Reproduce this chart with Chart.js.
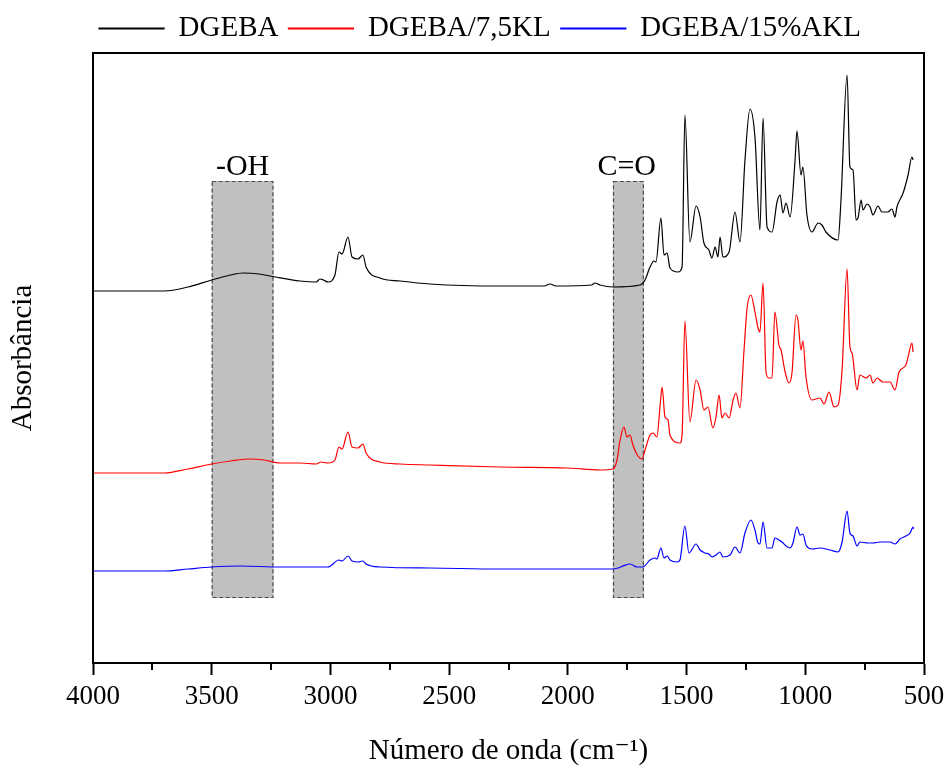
<!DOCTYPE html>
<html><head><meta charset="utf-8">
<script src="https://cdn.jsdelivr.net/npm/chart.js@4"></script>
<style>html,body{margin:0;padding:0;background:#fff}#c{display:block}</style>
</head><body>
<canvas id="c" width="945" height="767"></canvas>
<script>
const seriesNames = ['DGEBA', 'DGEBA/7,5KL', 'DGEBA/15%AKL'];
const seriesColors = ['#000000', '#ff0000', '#0000ff'];

const dgebaWn = [4000,3850,3700,3600,3500,3420,3368,3300,3233,3128,3060,3044,3030,3010,2981,2964,2951,2926,2909,2884,2863,2850,2791,2707,2581,2286,2100,2075,2050,1900,1886,1865,1810,1696,1675,1654,1637,1629,1608,1595,1582,1570,1536,1519,1507,1486,1460,1443,1427,1406,1393,1380,1368,1359,1347,1321,1296,1275,1254,1233,1212,1191,1178,1161,1140,1119,1106,1094,1081,1064,1043,1035,1018,1010,993,972,946,930,913,862,850,824,812,799,786,778,765,757,740,727,715,694,677,652,635,622,614,588,567,551,546];
const dgebaAbs = [3.72,3.72,3.72,3.76,3.83,3.88,3.90,3.89,3.86,3.82,3.81,3.84,3.83,3.81,3.88,4.11,4.09,4.26,4.06,4.04,4.08,3.96,3.85,3.82,3.79,3.77,3.77,3.79,3.77,3.78,3.80,3.78,3.76,3.78,3.83,3.96,4.02,4.01,4.45,4.08,4.10,3.95,3.91,3.96,5.48,4.21,4.57,4.46,4.20,4.13,4.05,4.16,4.06,4.26,4.06,4.11,4.51,4.21,5.03,5.54,5.26,4.33,5.45,4.36,4.31,4.61,4.68,4.50,4.60,4.46,5.03,5.32,4.88,4.96,4.48,4.31,4.40,4.38,4.31,4.23,4.61,5.88,4.96,4.93,4.43,4.45,4.63,4.53,4.59,4.56,4.48,4.57,4.51,4.51,4.54,4.46,4.56,4.70,4.88,5.06,5.03];

const klWn = [4000,3850,3700,3600,3500,3420,3340,3280,3212,3128,3060,3040,3010,2981,2964,2951,2926,2909,2884,2863,2850,2791,2707,2581,2286,2000,1865,1810,1793,1780,1764,1751,1738,1726,1705,1688,1675,1654,1641,1625,1612,1603,1591,1578,1570,1528,1519,1507,1486,1460,1443,1427,1410,1389,1376,1363,1351,1338,1321,1304,1292,1275,1258,1245,1229,1212,1199,1191,1178,1165,1153,1140,1128,1111,1102,1085,1069,1056,1039,1031,1018,1010,997,972,938,921,900,879,862,845,824,812,803,782,770,744,727,715,698,673,643,622,605,576,567,551,546];
const klAbs = [1.90,1.90,1.90,1.94,1.99,2.02,2.04,2.03,2.00,2.00,1.99,2.01,2.00,2.03,2.16,2.14,2.31,2.16,2.15,2.19,2.10,2.01,1.99,1.98,1.96,1.95,1.93,1.94,2.03,2.23,2.36,2.26,2.28,2.18,2.07,2.04,2.13,2.28,2.30,2.26,2.56,2.76,2.46,2.43,2.28,2.20,2.28,3.42,2.41,2.83,2.73,2.53,2.56,2.35,2.46,2.68,2.45,2.50,2.45,2.63,2.70,2.55,3.13,3.55,3.68,3.51,3.35,3.31,3.80,2.90,2.85,2.85,3.51,3.18,3.13,2.91,2.80,2.90,3.48,3.43,3.13,3.22,2.86,2.63,2.65,2.59,2.71,2.56,2.58,2.93,3.94,3.16,3.10,2.73,2.88,2.85,2.88,2.80,2.85,2.81,2.81,2.73,2.91,2.98,3.06,3.20,3.11];

const aklWn = [4000,3850,3700,3600,3500,3380,3212,3128,3010,2964,2951,2926,2909,2884,2863,2850,2791,2581,2286,1865,1810,1789,1768,1738,1709,1684,1654,1633,1625,1608,1595,1582,1570,1540,1528,1507,1490,1460,1443,1422,1406,1393,1376,1359,1347,1317,1296,1275,1254,1229,1212,1199,1191,1178,1161,1140,1128,1111,1098,1081,1064,1052,1035,1022,1010,997,972,938,896,862,845,824,812,799,782,770,736,715,685,643,622,601,576,559,546,544];
const aklAbs = [0.92,0.92,0.92,0.94,0.96,0.97,0.96,0.96,0.96,1.03,1.02,1.07,1.02,1.01,1.02,0.99,0.96,0.95,0.94,0.94,0.94,0.95,0.97,0.99,0.96,0.96,1.03,1.05,1.04,1.15,1.05,1.07,1.03,1.01,1.03,1.37,1.10,1.19,1.13,1.10,1.09,1.06,1.08,1.11,1.06,1.08,1.16,1.10,1.30,1.43,1.33,1.20,1.19,1.41,1.15,1.15,1.25,1.23,1.21,1.17,1.15,1.20,1.36,1.28,1.29,1.18,1.14,1.15,1.13,1.11,1.21,1.52,1.30,1.27,1.17,1.21,1.20,1.20,1.21,1.21,1.19,1.24,1.27,1.30,1.36,1.34];

const xTicks = [4000, 3500, 3000, 2500, 2000, 1500, 1000, 500];
const xMinorTicks = [3750, 3250, 2750, 2250, 1750, 1250, 750];
const bandLabels = ['-OH', 'C=O'];
const bandFrom = [3500, 1810];
const bandTo = [3240, 1680];
const bandLabelWn = [3370, 1752];
const bandYRange = [0.65, 4.82];
const bandLabelY = 4.88;

const FONT = "'Liberation Serif','DejaVu Serif','Times New Roman',serif";

const wnSets = [dgebaWn, klWn, aklWn];
const absSets = [dgebaAbs, klAbs, aklAbs];

const bandPlugin = {
  id: 'bands',
  beforeDatasetsDraw(chart) {
    const {ctx, scales: {x, y}} = chart;
    ctx.save();
    for (let i = 0; i < bandLabels.length; i++) {
      const x1 = x.getPixelForValue(bandFrom[i]);
      const x2 = x.getPixelForValue(bandTo[i]);
      const y1 = y.getPixelForValue(bandYRange[1]);
      const y2 = y.getPixelForValue(bandYRange[0]);
      ctx.fillStyle = '#c0c0c0';
      ctx.fillRect(x1, y1, x2 - x1, y2 - y1);
      ctx.setLineDash([4, 2.5]);
      ctx.lineWidth = 1.2;
      ctx.strokeStyle = '#4a4a4a';
      ctx.strokeRect(x1 + 0.5, y1 + 0.5, x2 - x1 - 1, y2 - y1 - 1);
      ctx.setLineDash([]);
      ctx.fillStyle = '#000';
      ctx.font = '30px ' + FONT;
      ctx.textAlign = 'center';
      ctx.textBaseline = 'alphabetic';
      ctx.fillText(bandLabels[i], x.getPixelForValue(bandLabelWn[i]), y.getPixelForValue(bandLabelY));
    }
    ctx.restore();
  },
  afterDraw(chart) {
    const {ctx, chartArea: a, scales: {x}} = chart;
    ctx.save();
    ctx.strokeStyle = '#000';
    ctx.lineWidth = 2;
    ctx.strokeRect(a.left, a.top, a.right - a.left, a.bottom - a.top);
    ctx.beginPath();
    for (const v of xMinorTicks) {
      const px = Math.round(x.getPixelForValue(v));
      ctx.moveTo(px, a.bottom);
      ctx.lineTo(px, a.bottom + 7);
    }
    ctx.stroke();
    ctx.restore();
  }
};

Chart.defaults.font.family = FONT;
Chart.defaults.color = '#000';

new Chart(document.getElementById('c'), {
  type: 'line',
  data: {
    datasets: seriesNames.map((name, i) => ({
      label: name,
      data: wnSets[i].map((w, j) => ({x: w, y: absSets[i][j]})),
      borderColor: seriesColors[i],
      backgroundColor: seriesColors[i],
      borderWidth: 1.2,
      pointRadius: 0,
      cubicInterpolationMode: 'monotone',
      fill: false
    }))
  },
  options: {
    responsive: false,
    animation: false,
    layout: {padding: {left: 36, right: 21, top: 4, bottom: 0}},
    plugins: {
      legend: {
        display: true,
        position: 'top',
        labels: {boxWidth: 65, boxHeight: 1, padding: 10, color: '#000', font: {size: 29, family: FONT}}
      },
      tooltip: {enabled: false}
    },
    scales: {
      x: {
        type: 'linear', reverse: true, min: 500, max: 4000,
        afterBuildTicks: s => { s.ticks = xTicks.map(v => ({value: v})); },
        ticks: {callback: v => String(v), color: '#000', font: {size: 27}, padding: 6, maxRotation: 0, autoSkip: false},
        grid: {display: true, drawOnChartArea: false, drawTicks: true, tickLength: 12, tickWidth: 2, color: '#000'},
        border: {display: true, color: '#000', width: 2},
        title: {display: true, text: 'Número de onda (cm⁻¹)', color: '#000', font: {size: 29, lineHeight: 1}, padding: {top: 0, bottom: 1.5}},
        afterFit: s => { s.height = 104; s.paddingLeft = 0; s.paddingRight = 0; }
      },
      y: {
        type: 'linear', min: 0, max: 6.1,
        ticks: {display: false},
        grid: {display: false},
        border: {display: true, color: '#000', width: 2},
        title: {display: true, text: 'Absorbância', color: '#000', font: {size: 29, lineHeight: 1}, padding: {top: -27.5, bottom: 0}},
        afterFit: s => { s.width = 57; s.paddingTop = 0; s.paddingBottom = 0; }
      }
    }
  },
  plugins: [bandPlugin]
});
</script>
</body></html>
